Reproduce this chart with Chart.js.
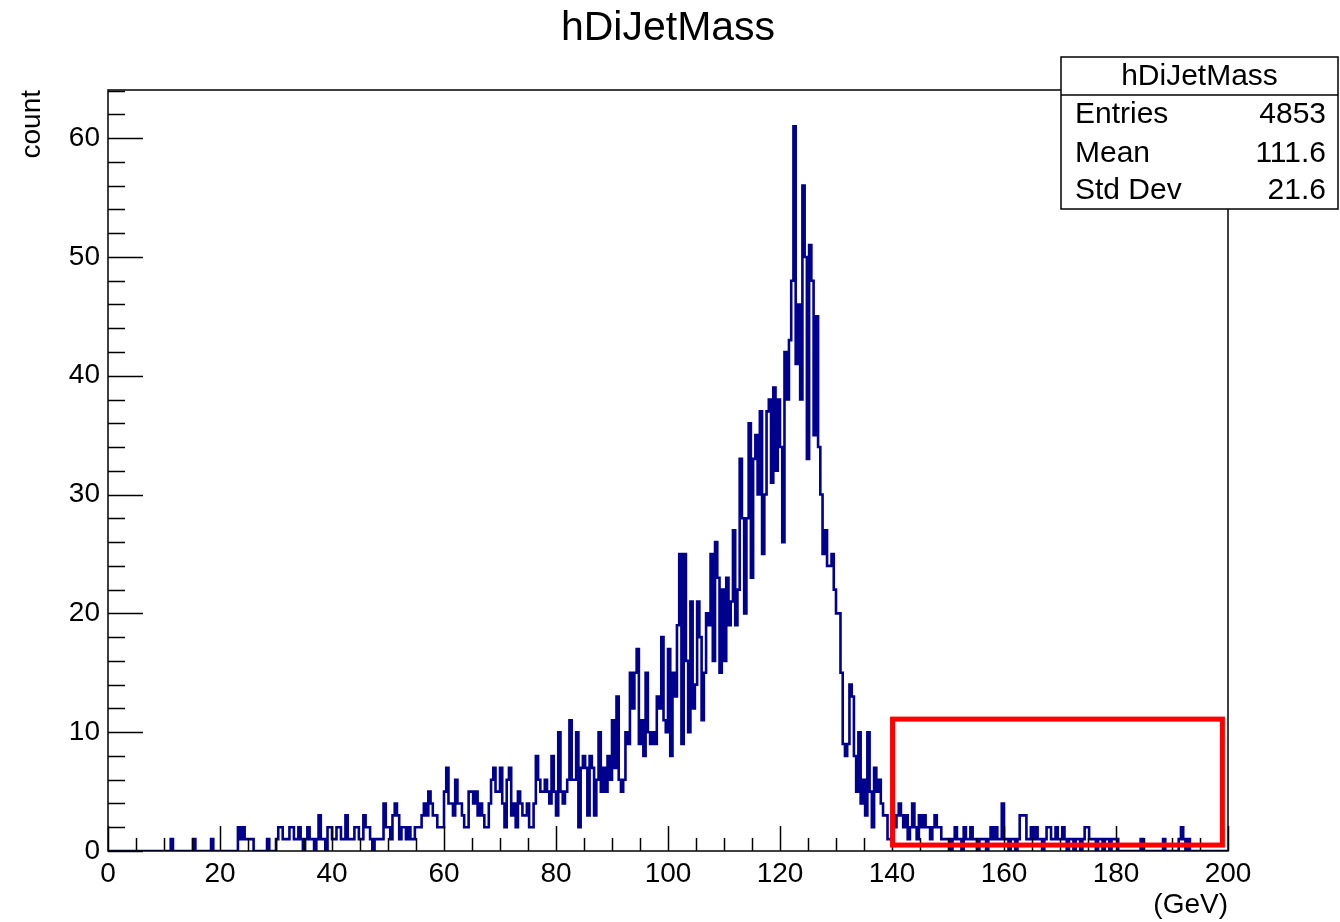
<!DOCTYPE html>
<html>
<head>
<meta charset="utf-8">
<title>hDiJetMass</title>
<script src="https://cdn.jsdelivr.net/npm/chart.js@4.4.1/dist/chart.umd.min.js"></script>
<style>
  body { margin: 0; background: #fff; }
  canvas { display: block; }
</style>
</head>
<body>
<canvas id="chart" width="1340" height="922"></canvas>
<script>
// histogram binning (GeV)
const xMin = 0;
const xMax = 200;
const binWidth = 0.4;
const yMax = 64.05;

// bin contents, 25 bins per 10 GeV
const countsLow = [ // 0 - 40 GeV
  0,0,0,0,0,0,0,0,0,0, 0,0,0,0,0,0,0,0,0,0, 0,0,0,0,0,
  0,0,0,0,1,0,0,0,0,0, 0,0,0,0,1,0,0,0,0,0, 0,0,1,0,0,
  0,0,0,0,0,0,0,0,0,2, 1,2,1,1,1,1,0,0,0,0, 0,0,1,0,0,
  0,1,2,2,1,1,1,2,2,1, 1,2,1,0,1,2,1,1,0,1, 3,1,1,0,2,
];
const countsRise = [ // 40 - 80 GeV
  2,1,1,2,2,1,1,3,1,1, 1,2,2,1,1,3,2,2,1,0, 1,1,1,1,4,
  2,2,1,3,4,3,1,2,2,1, 2,1,1,2,2,2,3,4,3,5, 4,3,3,2,2,
  2,5,7,4,4,3,6,4,4,3, 2,2,5,5,4,5,3,4,3,2, 2,4,6,7,5,
  5,7,4,2,6,7,3,4,2,5, 4,3,3,4,2,2,4,8,6,5, 5,6,5,4,8,
];
const countsBulk = [ // 80 - 120 GeV
  5,3,10,5,4,5,6,11,6,6, 10,2,7,8,7,3,8,7,3,6, 10,5,7,5,8,
  6,11,7,13,6,5,6,10,9,15, 12,15,17,9,11,8,15,10,9,10, 9,13,12,18,11,
  10,17,8,15,13,19,25,9,25,16, 10,21,12,14,21,18,11,15,20,19, 25,16,26,23,15,
  22,16,23,19,21,27,19,22,33,28, 20,28,36,23,33,35,30,37,25,30, 37,38,31,39,32,
];
const countsPeak = [ // 120 - 140 GeV
  38,34,26,42,38,43,48,61,41,46, 38,56,50,33,51,48,35,45,34,30, 25,27,24,24,25,
  22,20,20,15,9,8,9,14,13,8, 5,10,4,6,3,10,5,2,7,5, 6,4,3,3,1,
];
const countsTail = [ // 140 - 200 GeV
  1,3,2,3,4,3,2,3,1,2, 4,2,1,3,2,3,2,2,1,2, 3,2,2,1,1,
  1,1,0,1,2,1,1,0,2,1, 1,2,1,1,0,1,1,1,0,1, 2,1,2,1,1,
  4,1,1,0,1,1,0,1,3,3, 3,1,1,2,1,2,1,1,0,1, 2,2,1,1,2,
  1,1,2,1,0,1,1,0,1,1, 0,1,2,2,1,1,1,0,1,1, 0,1,1,0,1,
  1,1,0,0,0,0,0,0,0,0, 0,0,1,0,0,0,0,0,0,0, 0,0,1,0,0,
  0,0,0,0,1,2,1,0,1,0, 0,0,0,0,0,0,0,0,0,0, 0,0,0,0,0,
];

const xTicks = [0, 20, 40, 60, 80, 100, 120, 140, 160, 180, 200];
const yTicks = [0, 10, 20, 30, 40, 50, 60];

const histTitle = "hDiJetMass";
const statsRows = [
  ["Entries", "4853"],
  ["Mean", "111.6"],
  ["Std Dev", "21.6"],
];

// red highlight box, in data units
const highlightBox = { x0: 140.1, x1: 199.0, y0: 0.5, y1: 11.1 };

const counts = [].concat(countsLow, countsRise, countsBulk, countsPeak, countsTail);
const points = counts.map((c, i) => ({ x: xMin + i * binWidth, y: c }));
points.push({ x: xMax, y: counts[counts.length - 1] });

const FONT = "'Liberation Sans', Arial, Helvetica, sans-serif";

const rootStyle = {
  id: "rootStyle",
  beforeDraw: (chart) => {
    const { ctx, width, height } = chart;
    ctx.save();
    ctx.fillStyle = "white";
    ctx.fillRect(0, 0, width, height);
    ctx.restore();
  },
  afterDatasetsDraw: (chart) => {
    const { ctx, chartArea } = chart;
    const xs = chart.scales.x;
    const ys = chart.scales.y;
    ctx.save();

    // frame
    ctx.strokeStyle = "#000";
    ctx.lineWidth = 1.5;
    ctx.strokeRect(chartArea.left, chartArea.top, chartArea.right - chartArea.left, chartArea.bottom - chartArea.top);

    // ticks, drawn inside the frame
    ctx.lineWidth = 1.5;
    ctx.beginPath();
    for (let v = xMin; v <= xMax; v += 5) {
      const px = Math.round(xs.getPixelForValue(v)) + 0.5;
      const len = v % 20 === 0 ? 25 : 13;
      ctx.moveTo(px, chartArea.bottom);
      ctx.lineTo(px, chartArea.bottom - len);
    }
    for (let v = 0; v <= yMax; v += 2) {
      const py = Math.round(ys.getPixelForValue(v)) + 0.5;
      const len = v % 10 === 0 ? 35 : 17;
      ctx.moveTo(chartArea.left, py);
      ctx.lineTo(chartArea.left + len, py);
    }
    ctx.stroke();

    // highlight box
    ctx.strokeStyle = "#ff0000";
    ctx.lineWidth = 5;
    const bx0 = xs.getPixelForValue(highlightBox.x0);
    const bx1 = xs.getPixelForValue(highlightBox.x1);
    const by0 = ys.getPixelForValue(highlightBox.y0);
    const by1 = ys.getPixelForValue(highlightBox.y1);
    ctx.strokeRect(bx0, by1, bx1 - bx0, by0 - by1);
    ctx.restore();
  },
  afterDraw: (chart) => {
    const { ctx, chartArea } = chart;
    ctx.save();
    ctx.fillStyle = "#000";

    // title
    ctx.font = "41px " + FONT;
    ctx.textAlign = "center";
    ctx.textBaseline = "middle";
    ctx.fillText(histTitle, 668, 29);

    // axis titles
    ctx.font = "28px " + FONT;
    ctx.textAlign = "right";
    ctx.fillText("(GeV)", chartArea.right, 905);
    ctx.save();
    ctx.translate(32, chartArea.top);
    ctx.rotate(-Math.PI / 2);
    ctx.textAlign = "right";
    ctx.fillText("count", 0, 0);
    ctx.restore();

    // stats box
    const left = 1061, right = 1338, top = 57, bottom = 209;
    ctx.fillStyle = "#fff";
    ctx.fillRect(left, top, right - left, bottom - top);
    ctx.strokeStyle = "#000";
    ctx.lineWidth = 1.5;
    ctx.strokeRect(left, top, right - left, bottom - top);
    ctx.beginPath();
    ctx.moveTo(left, 95);
    ctx.lineTo(right, 95);
    ctx.stroke();

    ctx.fillStyle = "#000";
    ctx.font = "30px " + FONT;
    ctx.textAlign = "center";
    ctx.fillText(histTitle, (left + right) / 2, 77);
    const rowY = [115, 154, 191];
    statsRows.forEach((row, i) => {
      ctx.textAlign = "left";
      ctx.fillText(row[0], 1075, rowY[i]);
      ctx.textAlign = "right";
      ctx.fillText(row[1], 1326, rowY[i]);
    });
    ctx.restore();
  },
};

new Chart(document.querySelector("#chart"), {
  type: "line",
  data: {
    datasets: [
      {
        label: histTitle,
        data: points,
        borderColor: "#00008f",
        borderWidth: 2.6,
        pointRadius: 0,
        stepped: "after",
        fill: false,
        tension: 0,
      },
    ],
  },
  options: {
    responsive: false,
    animation: false,
    devicePixelRatio: 1,
    layout: { padding: { left: 0, right: 112, top: 90, bottom: 0 } },
    plugins: {
      legend: { display: false },
      title: { display: false },
      tooltip: { enabled: false },
    },
    scales: {
      x: {
        type: "linear",
        min: xMin,
        max: xMax,
        grid: { display: false, drawTicks: false },
        border: { display: false },
        afterFit: (s) => { s.height = 71; },
        afterBuildTicks: (s) => { s.ticks = xTicks.map((v) => ({ value: v })); },
        ticks: {
          padding: 6,
          maxRotation: 0,
          color: "#000",
          font: { family: FONT, size: 28 },
        },
      },
      y: {
        type: "linear",
        min: 0,
        max: yMax,
        grid: { display: false, drawTicks: false },
        border: { display: false },
        afterFit: (s) => { s.width = 108; },
        afterBuildTicks: (s) => { s.ticks = yTicks.map((v) => ({ value: v })); },
        ticks: {
          padding: 8,
          color: "#000",
          font: { family: FONT, size: 28 },
        },
      },
    },
  },
  plugins: [rootStyle],
});
</script>
</body>
</html>
